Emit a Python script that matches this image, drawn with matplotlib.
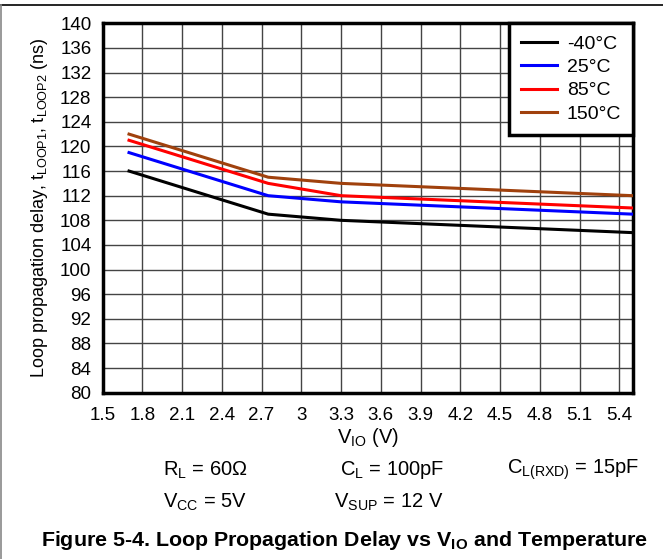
import matplotlib
matplotlib.use('Agg')
import matplotlib.pyplot as plt
from matplotlib.lines import Line2D

plt.rcParams['font.family'] = ['Liberation Sans', 'DejaVu Sans']
plt.rcParams['mathtext.fontset'] = 'custom'
plt.rcParams['mathtext.rm'] = 'Liberation Sans'
plt.rcParams['mathtext.bf'] = 'Liberation Sans:bold'

# V_IO (V) sample points
vio = [1.7, 2.75, 3.3, 5.5]
# loop propagation delay (ns) per temperature
d_m40 = [116, 109, 108, 106]
d_25 = [119, 112, 111, 109]
d_85 = [121, 114, 112, 110]
d_150 = [122, 115, 114, 112]

temps = ['-40°C', '25°C', '85°C', '150°C']
colors = ['black', '#0000ff', '#ff0000', '#a0410d']
series = [d_m40, d_25, d_85, d_150]

xticks = [1.5, 1.8, 2.1, 2.4, 2.7, 3, 3.3, 3.6, 3.9, 4.2, 4.5, 4.8, 5.1, 5.4]
xticklabels = ['1.5', '1.8', '2.1', '2.4', '2.7', '3', '3.3', '3.6', '3.9',
               '4.2', '4.5', '4.8', '5.1', '5.4']
yticks = list(range(80, 141, 4))

W, H = 663, 559
fig = plt.figure(figsize=(W / 100, H / 100), dpi=100)
ax = fig.add_axes([102.5 / W, 1 - 392.7 / H, (632.7 - 102.5) / W, (392.7 - 23.3) / H])

for vals, c, t in zip(series, colors, temps):
    ax.plot(vio, vals, color=c, lw=2.2, label=t, zorder=3)

ax.set_xlim(1.5, 5.5)
ax.set_ylim(80, 140)
ax.set_xticks(xticks)
ax.set_xticklabels(xticklabels)
ax.set_yticks(yticks)
ax.grid(True, color='#444444', lw=1.0)
ax.tick_params(length=0, labelsize=13.5)
ax.tick_params(axis='x', pad=10)
ax.tick_params(axis='y', pad=8)
for s in ax.spines.values():
    s.set_linewidth(2.5)
    s.set_color('black')

ax.set_xlabel(r'V$_{\mathregular{IO}}$ (V)', fontsize=14.5, labelpad=2)
ax.set_ylabel(r'Loop propagation delay, t$_{\mathregular{LOOP1}}$, t$_{\mathregular{LOOP2}}$ (ns)',
              fontsize=13, labelpad=7)

leg = ax.legend(loc='upper right', borderaxespad=0, fontsize=14, fancybox=False,
                framealpha=1, edgecolor='black', handlelength=1.85, handletextpad=0.52,
                labelspacing=0.3, borderpad=0.6)
leg.get_frame().set_linewidth(2.5)
for h in leg.get_lines():
    h.set_linewidth(2.2)

# test conditions
fs = 14.5
fig.text(163 / W, 1 - 470 / H, r'R$_{\mathregular{L}}$ = 60Ω', fontsize=fs, va='center')
fig.text(340 / W, 1 - 470 / H, r'C$_{\mathregular{L}}$ = 100pF', fontsize=fs, va='center')
fig.text(507 / W, 1 - 470 / H, r'C$_{\mathregular{L(RXD)}}$ = 15pF', fontsize=fs, va='center')
fig.text(163 / W, 1 - 502 / H, r'V$_{\mathregular{CC}}$ = 5V', fontsize=fs, va='center')
fig.text(334 / W, 1 - 502 / H, r'V$_{\mathregular{SUP}}$ = 12 V', fontsize=fs, va='center')

fig.text(345 / W, 1 - 540 / H,
         r'Figure 5-4. Loop Propagation Delay vs V$_{\mathbf{IO}}$ and Temperature',
         fontsize=15.4, fontweight='bold', ha='center', va='center')

# outer frame (top and left edges only)
fig.add_artist(Line2D([0, 1], [1 - 5 / H, 1 - 5 / H], color='black', lw=1.2,
                      transform=fig.transFigure))
fig.add_artist(Line2D([0.8 / W, 0.8 / W], [0, 1 - 5 / H], color='#888888', lw=1.2,
                      transform=fig.transFigure))

fig.savefig('out.png', dpi=100)
